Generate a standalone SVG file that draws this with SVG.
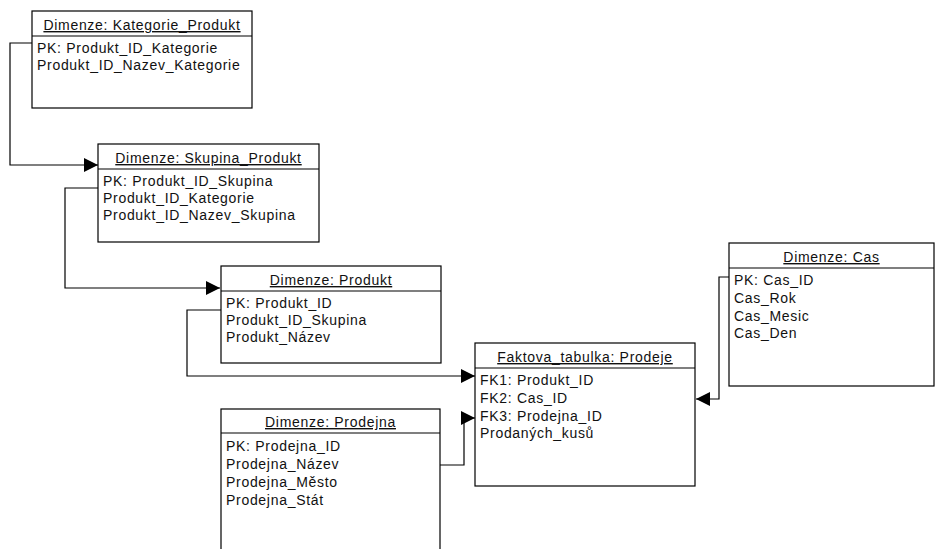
<svg xmlns="http://www.w3.org/2000/svg" width="936" height="549" viewBox="0 0 936 549">
<style>
.box{fill:#fff;stroke:#000;stroke-width:1.2}
.div{stroke:#000;stroke-width:1.2}
.t{font-family:"Liberation Sans",Arial,sans-serif;font-size:14px;letter-spacing:0.7px;fill:#111}
.h{text-anchor:middle;text-decoration:underline}
.c{fill:none;stroke:#000;stroke-width:1.2}
</style>
<defs>
<marker id="arr" viewBox="0 0 14 14" refX="14" refY="7" markerWidth="14" markerHeight="14" markerUnits="userSpaceOnUse" orient="auto">
<path d="M0,0 L14,7 L0,14 Z" fill="#000"/>
</marker>
</defs>
<rect width="936" height="549" fill="#fff"/>
<g id="connectors">
<polyline class="c" points="32,43 10,43 10,165 98,165" marker-end="url(#arr)"/>
<polyline class="c" points="98,188 65,188 65,288 220,288" marker-end="url(#arr)"/>
<polyline class="c" points="221,310 187,310 187,376 475,376" marker-end="url(#arr)"/>
<polyline class="c" points="440,465 464,465 464,418 475,418" marker-end="url(#arr)"/>
<polyline class="c" points="729,277 719,277 719,399 696,399" marker-end="url(#arr)"/>
</g>
<g id="kategorie_produkt">
<rect class="box" x="32" y="11" width="220" height="97"/>
<line class="div" x1="32" y1="36" x2="252" y2="36"/>
<text class="t h" x="142" y="30">Dimenze: Kategorie_Produkt</text>
<text class="t" x="37" y="53">PK: Produkt_ID_Kategorie</text>
<text class="t" x="37" y="70">Produkt_ID_Nazev_Kategorie</text>
</g>
<g id="skupina_produkt">
<rect class="box" x="98" y="144" width="221" height="98"/>
<line class="div" x1="98" y1="169" x2="319" y2="169"/>
<text class="t h" x="208.5" y="163">Dimenze: Skupina_Produkt</text>
<text class="t" x="103" y="186">PK: Produkt_ID_Skupina</text>
<text class="t" x="103" y="203">Produkt_ID_Kategorie</text>
<text class="t" x="103" y="220">Produkt_ID_Nazev_Skupina</text>
</g>
<g id="produkt">
<rect class="box" x="221" y="266" width="220" height="97"/>
<line class="div" x1="221" y1="291" x2="441" y2="291"/>
<text class="t h" x="331" y="285">Dimenze: Produkt</text>
<text class="t" x="226" y="308">PK: Produkt_ID</text>
<text class="t" x="226" y="325">Produkt_ID_Skupina</text>
<text class="t" x="226" y="342">Produkt_Název</text>
</g>
<g id="prodeje">
<rect class="box" x="475" y="343" width="220" height="143"/>
<line class="div" x1="475" y1="368" x2="695" y2="368"/>
<text class="t h" x="585" y="362">Faktova_tabulka: Prodeje</text>
<text class="t" x="480" y="385">FK1: Produkt_ID</text>
<text class="t" x="480" y="403">FK2: Cas_ID</text>
<text class="t" x="480" y="421">FK3: Prodejna_ID</text>
<text class="t" x="480" y="438">Prodaných_kusů</text>
</g>
<g id="cas">
<rect class="box" x="729" y="243" width="205" height="143"/>
<line class="div" x1="729" y1="268" x2="934" y2="268"/>
<text class="t h" x="831.5" y="262">Dimenze: Cas</text>
<text class="t" x="734" y="285">PK: Cas_ID</text>
<text class="t" x="734" y="303">Cas_Rok</text>
<text class="t" x="734" y="321">Cas_Mesic</text>
<text class="t" x="734" y="338">Cas_Den</text>
</g>
<g id="prodejna">
<rect class="box" x="221" y="409" width="219" height="145"/>
<line class="div" x1="221" y1="433" x2="440" y2="433"/>
<text class="t h" x="330.5" y="427">Dimenze: Prodejna</text>
<text class="t" x="226" y="451">PK: Prodejna_ID</text>
<text class="t" x="226" y="469">Prodejna_Název</text>
<text class="t" x="226" y="487">Prodejna_Město</text>
<text class="t" x="226" y="505">Prodejna_Stát</text>
</g>
</svg>
